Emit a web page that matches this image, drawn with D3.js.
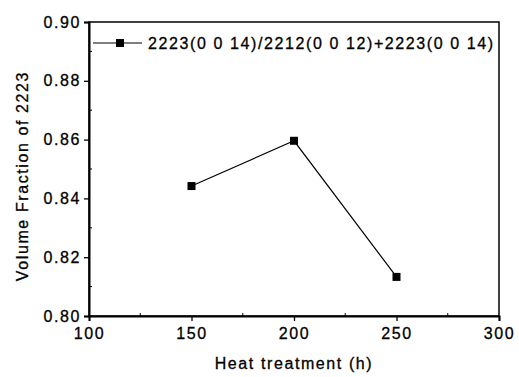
<!DOCTYPE html>
<html>
<head>
<meta charset="utf-8">
<script src="https://cdn.jsdelivr.net/npm/d3@7"></script>
<style>
  body { margin: 0; background: #fff; }
  text { font-family: "Liberation Sans", Arial, sans-serif; fill: #000; stroke: #000; stroke-width: 0.3px; }
</style>
</head>
<body>
<svg width="519" height="377"></svg>
<script>
// data
let hours = [150, 200, 250];
let fraction = [0.8442, 0.8596, 0.8133];
let xTicks = [100, 150, 200, 250, 300];
let yTicks = [0.80, 0.82, 0.84, 0.86, 0.88, 0.90];
let seriesName = "2223(0 0 14)/2212(0 0 12)+2223(0 0 14)";

let svg = d3.select("svg");
let margin = { top: 22, right: 20, bottom: 61, left: 89 };
let width = 519 - margin.left - margin.right,
  height = 377 - margin.top - margin.bottom;
let fontSize = "16px", spacing = "1.6px";

let g = svg.append("g").attr("transform", `translate(${margin.left},${margin.top})`);

let x = d3.scaleLinear().domain([100, 300]).range([0, width]);
let y = d3.scaleLinear().domain([0.80, 0.90]).range([height, 0]);

// frame
g.append("rect")
  .attr("width", width).attr("height", height)
  .attr("fill", "none").attr("stroke", "#000").attr("stroke-width", 1.5);

// minor ticks (inside)
let xMinor = [125, 175, 225, 275];
let yMinor = [0.81, 0.83, 0.85, 0.87, 0.89];
g.selectAll(".xm").data(xMinor).enter().append("line")
  .attr("x1", d => x(d)).attr("x2", d => x(d))
  .attr("y1", height).attr("y2", height - 3)
  .attr("stroke", "#000");
g.selectAll(".ym").data(yMinor).enter().append("line")
  .attr("x1", 0).attr("x2", 3)
  .attr("y1", d => y(d)).attr("y2", d => y(d))
  .attr("stroke", "#000");

let xAxis = g.append("g")
  .attr("transform", `translate(0,${height})`)
  .call(d3.axisBottom(x).tickValues(xTicks).tickSize(5).tickPadding(7).tickFormat(d3.format("d")));
let yAxis = g.append("g")
  .call(d3.axisLeft(y).tickValues(yTicks).tickSize(5).tickPadding(3).tickFormat(d3.format(".2f")));

[xAxis, yAxis].forEach(a => {
  a.select(".domain").attr("stroke-width", 2);
  a.selectAll(".tick line").attr("stroke-width", 1.3);
  a.selectAll(".tick text")
    .style("font-family", '"Liberation Sans", Arial, sans-serif')
    .style("font-size", fontSize)
    .style("letter-spacing", spacing)
    .attr("fill", "#000");
});

// series
let line = d3.line().x((d, i) => x(hours[i])).y(d => y(d));
g.append("path")
  .datum(fraction)
  .attr("d", line)
  .attr("fill", "none").attr("stroke", "#000").attr("stroke-width", 1.2);

g.selectAll(".pt").data(fraction).enter().append("rect")
  .attr("x", (d, i) => x(hours[i]) - 4)
  .attr("y", d => y(d) - 4)
  .attr("width", 8).attr("height", 8)
  .attr("fill", "#000");

// legend
let ly = 21;
g.append("line").attr("x1", 4).attr("x2", 53).attr("y1", ly).attr("y2", ly)
  .attr("stroke", "#000").attr("stroke-width", 1.2);
g.append("rect").attr("x", 27).attr("y", ly - 4).attr("width", 8).attr("height", 8).attr("fill", "#000");
g.append("text").attr("x", 59).attr("y", ly + 5.5)
  .style("font-size", fontSize).style("letter-spacing", spacing)
  .text(seriesName);

// axis titles
svg.append("text")
  .attr("x", margin.left + width / 2).attr("y", 369)
  .attr("text-anchor", "middle")
  .style("font-size", fontSize).style("letter-spacing", spacing)
  .text("Heat treatment (h)");
svg.append("text")
  .attr("transform", `translate(28,176) rotate(-90)`)
  .attr("text-anchor", "middle")
  .style("font-size", fontSize).style("letter-spacing", spacing)
  .text("Volume Fraction of 2223");
</script>
</body>
</html>
